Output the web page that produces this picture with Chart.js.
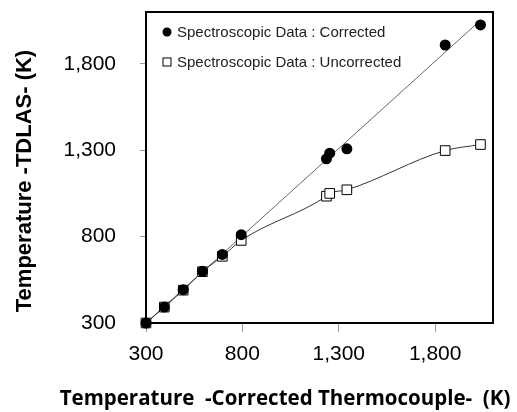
<!DOCTYPE html>
<html lang="en">
<head>
  <meta charset="UTF-8" />
  <title>TDLAS vs Thermocouple Temperature</title>
  <script src="https://cdn.jsdelivr.net/npm/chart.js"></script>
  <style>
    body { margin: 0; background: #fff; }
    #wrap { width: 517px; height: 412px; }
  </style>
</head>
<body>
  <div id="wrap"><canvas id="tempChart" width="517" height="412"></canvas></div>

<script>
  // thermocouple reference temperatures (K)
  const thermoTemp = [300, 395, 493, 593, 696, 794, 1236, 1253, 1342, 1852, 2035];
  // TDLAS temperatures (K)
  const correctedTemp = [300, 392, 493, 599, 697, 811, 1250, 1283, 1308, 1909, 2025];
  const uncorrectedTemp = [300, 392, 490, 597, 686, 778, 1034, 1050, 1071, 1298, 1333];
  const tickValues = [300, 800, 1300, 1800];
  const axisMin = 300;
  const axisMax = 2100;
  const seriesLabels = ['Spectroscopic Data : Corrected', 'Spectroscopic Data : Uncorrected'];
  const xTitle = 'Temperature  -Corrected Thermocouple-  (K)';
  const yTitle = 'Temperature -TDLAS- (K)';

  const toPoints = (xs, ys) => xs.map((x, i) => ({ x, y: ys[i] }));

  // least squares line through the corrected data
  function linearFit(xs, ys) {
    const n = xs.length;
    const mx = xs.reduce((a, b) => a + b, 0) / n;
    const my = ys.reduce((a, b) => a + b, 0) / n;
    let sxy = 0, sxx = 0;
    xs.forEach((x, i) => { sxy += (x - mx) * (ys[i] - my); sxx += (x - mx) * (x - mx); });
    const slope = sxy / sxx;
    const icpt = my - slope * mx;
    const x0 = Math.min(...xs), x1 = Math.max(...xs);
    return [{ x: x0, y: slope * x0 + icpt }, { x: x1, y: slope * x1 + icpt }];
  }

  // legend drawn inside the plot box, top-left
  const innerLegend = {
    id: 'innerLegend',
    afterDraw(chart) {
      const { ctx, chartArea } = chart;
      const rows = [
        { ds: chart.data.datasets[0], y: chartArea.top + 20 },
        { ds: chart.data.datasets[1], y: chartArea.top + 50 }
      ];
      ctx.save();
      ctx.font = '15px "Liberation Sans", Arial, sans-serif';
      ctx.textBaseline = 'middle';
      rows.forEach(r => {
        const mx = chartArea.left + 21;
        ctx.fillStyle = r.ds.pointBackgroundColor;
        ctx.strokeStyle = '#000';
        ctx.lineWidth = 1;
        if (r.ds.pointStyle === 'circle') {
          ctx.beginPath();
          ctx.arc(mx, r.y, 4.5, 0, Math.PI * 2);
          ctx.fill();
        } else {
          ctx.fillRect(mx - 4, r.y - 4, 8, 8);
          ctx.strokeRect(mx - 4, r.y - 4, 8, 8);
        }
        ctx.fillStyle = '#222';
        ctx.fillText(r.ds.label, mx + 10, r.y + 1);
      });
      ctx.restore();
    }
  };

  // plot frame plus both axis titles
  const frameAndTitles = {
    id: 'frameAndTitles',
    beforeDatasetsDraw(chart) {
      const { ctx, chartArea } = chart;
      ctx.save();
      ctx.strokeStyle = '#000';
      ctx.lineWidth = 2;
      ctx.strokeRect(chartArea.left, chartArea.top, chartArea.right - chartArea.left, chartArea.bottom - chartArea.top);
      ctx.restore();
    },
    afterDraw(chart) {
      const { ctx } = chart;
      ctx.save();
      ctx.fillStyle = '#000';
      ctx.textAlign = 'center';
      ctx.textBaseline = 'alphabetic';
      ctx.font = 'bold 20.5px "Open Sans", sans-serif';
      ctx.fillText(xTitle, 285, 405);

      ctx.translate(31, 181);
      ctx.rotate(-Math.PI / 2);
      ctx.font = 'bold 22px "Liberation Sans", Arial, sans-serif';
      ctx.fillText(yTitle, 0, 0);
      ctx.restore();
    }
  };

  const setTicks = scale => { scale.ticks = tickValues.map(v => ({ value: v })); };
  const tickFont = { family: '"Liberation Sans", Arial, sans-serif', size: 21 };

  const ctx = document.getElementById('tempChart').getContext('2d');
  new Chart(ctx, {
    type: 'scatter',
    data: {
      datasets: [
        {
          label: seriesLabels[0],
          data: toPoints(thermoTemp, correctedTemp),
          pointStyle: 'circle',
          pointRadius: 5.5,
          pointBackgroundColor: '#000',
          pointBorderColor: '#000',
          pointBorderWidth: 0,
          showLine: false,
          clip: false,
          order: 1
        },
        {
          label: seriesLabels[1],
          data: toPoints(thermoTemp, uncorrectedTemp),
          pointStyle: 'rect',
          pointRadius: 6.8,
          pointBackgroundColor: '#fff',
          pointBorderColor: '#000',
          pointBorderWidth: 1,
          showLine: true,
          borderColor: '#333',
          borderWidth: 1,
          cubicInterpolationMode: 'monotone',
          clip: false,
          order: 2
        },
        {
          label: 'fit',
          data: linearFit(thermoTemp, correctedTemp),
          showLine: true,
          pointRadius: 0,
          borderColor: '#666',
          borderWidth: 1,
          order: 3
        }
      ]
    },
    options: {
      responsive: false,
      animation: false,
      layout: { padding: { top: 12, right: 24, left: 0, bottom: 0 } },
      plugins: { legend: { display: false }, tooltip: { enabled: false } },
      scales: {
        x: {
          type: 'linear',
          min: axisMin,
          max: axisMax,
          afterFit(scale) { scale.height = 89; scale.paddingLeft = 0; scale.paddingRight = 0; },
          afterBuildTicks: setTicks,
          ticks: {
            color: '#000',
            padding: 10,
            font: tickFont,
            callback: v => v.toLocaleString('en-US')
          },
          grid: { drawOnChartArea: false, tickLength: 9, color: '#999' },
          border: { color: '#000', width: 2 }
        },
        y: {
          type: 'linear',
          min: axisMin,
          max: axisMax,
          afterFit(scale) { scale.width = 146; scale.paddingTop = 0; scale.paddingBottom = 0; },
          afterBuildTicks: setTicks,
          ticks: {
            color: '#000',
            padding: 24,
            font: tickFont,
            callback: v => v.toLocaleString('en-US')
          },
          grid: { drawOnChartArea: false, tickLength: 6, color: '#999' },
          border: { color: '#000', width: 2 }
        }
      }
    },
    plugins: [innerLegend, frameAndTitles]
  });
</script>
</body>
</html>
